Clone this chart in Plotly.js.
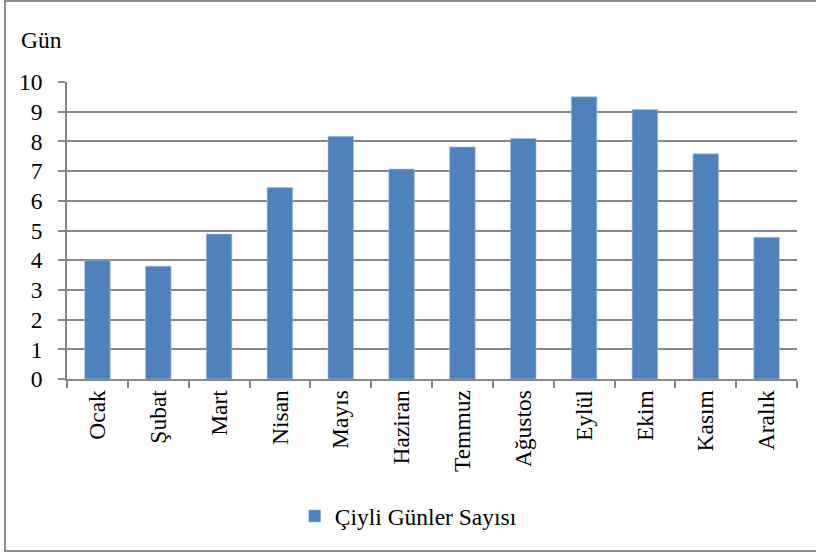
<!DOCTYPE html>
<html>
<head>
<meta charset="utf-8">
<script src="https://cdn.plot.ly/plotly-3.0.1.min.js"></script>
<style>
  html, body { margin: 0; padding: 0; background: #fff; }
  #frame { position: absolute; left: 0; top: 0; width: 816px; height: 557px; overflow: hidden; }
  #chart { width: 816px; height: 557px; }
  #border { position: absolute; left: 4px; top: 0px; width: 830px; height: 552px;
            border: 2px solid #8c8c8c; box-sizing: border-box; pointer-events: none; }
</style>
</head>
<body>
<div id="frame">
  <div id="chart"></div>
  <div id="border"></div>
</div>
<script>
const months = ["Ocak", "Şubat", "Mart", "Nisan", "Mayıs", "Haziran", "Temmuz", "Ağustos", "Eylül", "Ekim", "Kasım", "Aralık"];
const dewDays = [4.0, 3.8, 4.88, 6.45, 8.17, 7.07, 7.81, 8.1, 9.5, 9.07, 7.58, 4.77];
const seriesName = "Çiyli Günler Sayısı";
const yTicks = [0, 1, 2, 3, 4, 5, 6, 7, 8, 9, 10];

const font = "'Times New Roman', Times, 'Liberation Serif', Tinos, 'DejaVu Serif', serif";
const fs = 23.5;

const trace = {
  type: "bar",
  x: months,
  y: dewDays,
  name: seriesName,
  marker: { color: "#4F81BD", line: { color: "#A7C0DE", width: 0.6 } },
  hoverinfo: "x+y"
};

const layout = {
  width: 816,
  height: 557,
  margin: { l: 67, r: 19, t: 82, b: 178 },
  paper_bgcolor: "rgba(0,0,0,0)",
  plot_bgcolor: "#fff",
  bargap: 0.58,
  showlegend: true,
  font: { family: font, size: fs, color: "#000" },
  xaxis: {
    type: "category",
    tickangle: -90,
    ticks: "outside",
    tickson: "boundaries",
    ticklen: 7,
    tickwidth: 1.5,
    tickcolor: "#878787",
    showline: true,
    linecolor: "#878787",
    linewidth: 1.5,
    showgrid: false,
    tickfont: { family: font, size: fs, color: "#000" },
    fixedrange: true
  },
  yaxis: {
    range: [0, 10],
    tickvals: yTicks,
    ticktext: yTicks.map(String),
    ticks: "outside",
    ticklen: 7,
    tickwidth: 1.5,
    tickcolor: "#878787",
    ticklabelstandoff: 11,
    showline: true,
    linecolor: "#878787",
    linewidth: 1.5,
    showgrid: true,
    gridcolor: "#878787",
    gridwidth: 1.5,
    zeroline: false,
    tickfont: { family: font, size: fs, color: "#000" },
    fixedrange: true
  },
  legend: {
    orientation: "h",
    x: 0.312,
    xanchor: "left",
    y: -0.462,
    yanchor: "middle",
    font: { family: font, size: fs, color: "#000" },
    itemwidth: 30
  },
  annotations: [{
    text: "Gün",
    xref: "paper", yref: "paper",
    x: -0.066, y: 1.141,
    xanchor: "left", yanchor: "middle",
    showarrow: false,
    font: { family: font, size: fs, color: "#000" }
  }]
};

Plotly.newPlot("chart", [trace], layout, { displayModeBar: false, responsive: false });
</script>
</body>
</html>
